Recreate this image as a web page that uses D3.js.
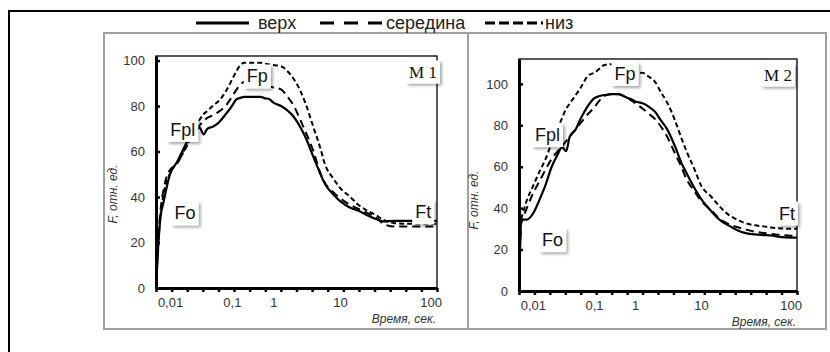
<!DOCTYPE html>
<html>
<head>
<meta charset="utf-8">
<script src="https://cdn.jsdelivr.net/npm/d3@7"></script>
<style>
  body { margin: 0; background: #fff; }
  svg { display: block; font-family: "Liberation Sans", Arial, sans-serif; }
</style>
</head>
<body>
<div id="chart"></div>
<script>
const seriesNames = ['верх', 'середина', 'низ'];

const times = [0.006, 0.0065, 0.007, 0.008, 0.01, 0.013, 0.016, 0.02, 0.025, 0.03, 0.035, 0.04, 0.05, 0.06, 0.08,
  0.1, 0.13, 0.16, 0.2, 0.25, 0.3, 0.4, 0.5, 0.6, 0.8, 1, 1.3, 1.6, 2, 2.5, 3, 4, 5, 6, 8,
  10, 13, 16, 20, 25, 30, 40, 50, 60, 80, 100, 120];

const m1Top = [0, 18, 30, 38.5, 50, 55.5, 60.5, 65.5, 68.5, 70.5, 67.5, 70, 71, 72.5, 76.5,
  80, 83, 83.6, 84, 84, 84, 84, 84, 83.5, 83, 81.5, 80, 78.2, 75.4, 71, 66.5, 57.5, 50.5, 45.5, 41,
  38.2, 35.3, 34, 32, 30.3, 29.3, 29.5, 29.5, 29.5, 29.5, 29.5, 29.5];
const m1Mid = [0, 22, 33, 44, 52, 54.5, 59.5, 64, 68.5, 71.5, 73.5, 74.8, 76, 77.3, 80.2,
  84, 87.3, 89.5, 90.7, 91, 90.5, 90, 89.5, 89, 88.5, 88.2, 87.3, 84.4, 80.3, 74.3, 69, 60, 51, 46, 42,
  39.5, 36.5, 34.8, 33, 31, 28.3, 27, 27, 27, 27, 27, 27];
const m1Low = [0, 20, 31, 42, 50.5, 55, 59, 64, 70, 74, 76.5, 77.8, 80.3, 82, 86.5,
  91.5, 95.5, 98, 99, 99, 99, 99, 99, 98.7, 98.3, 98, 97.5, 95.5, 92, 87, 81.5, 70.5, 62, 54, 48,
  44, 40, 36.5, 34, 32, 30, 28.5, 28.3, 28.3, 28.3, 28.3, 28.3];

const m2Top = [0, 33, 34.5, 34.5, 37.3, 44.5, 51, 59.5, 65.5, 69.5, 67.5, 74.5, 78, 83, 89.5,
  93, 94, 94.5, 94.7, 95, 95, 95, 94.3, 93.5, 92.6, 91.5, 90.6, 89, 86.5, 82, 78.5, 70, 62, 57, 49.5,
  44.5, 38.5, 34.5, 31.8, 29.5, 28.2, 27.3, 27, 26.8, 26, 25.8, 25.8];
const m2Mid = [0, 33, 35.5, 40, 47, 53.3, 58.5, 63.5, 67.2, 70, 72.3, 74.5, 78, 81, 85.5,
  88.5, 91.5, 93.5, 94.6, 95, 95, 95, 94.3, 93.5, 92, 90.7, 88, 85.6, 83, 79, 75, 66.5, 60, 54, 48,
  43.5, 39, 35, 32.5, 30.9, 30, 28.6, 28, 27.6, 27, 26.7, 26.5];
const m2Low = [0, 34, 38, 43.8, 50.5, 58, 63.5, 71, 78, 83.5, 88, 90.5, 94.5, 98, 104,
  105.3, 107, 108.7, 109.3, 109.5, 109.3, 108.5, 107.5, 106.5, 105.8, 105.5, 105.3, 103.5, 101, 95.5, 91.5, 82.5, 74, 67.5, 58.5,
  51, 45.5, 41, 37, 34.5, 33, 31.7, 31.2, 30.7, 30.2, 30, 30];

const xTickValues = [0.01, 0.1, 1, 10, 100];
const yTickValues = [0, 20, 40, 60, 80, 100];

const notes1 = [
  { text: 'Fpl', t: 0.016, v: 69.5 },
  { text: 'Fp', t: 0.41, v: 93 },
  { text: 'Fo', t: 0.0175, v: 32.8 },
  { text: 'Ft', t: 83, v: 33.3 }
];
const notes2 = [
  { text: 'Fpl', t: 0.0173, v: 75.3 },
  { text: 'Fp', t: 0.565, v: 104.8 },
  { text: 'Fo', t: 0.021, v: 24.6 },
  { text: 'Ft', t: 91, v: 37.4 }
];

// the time axis of the original is stretched unevenly between decades
const xKnots = [0.006, 0.01, 0.1, 1, 10, 100, 120];
const xKnotFrac = [0, 0.05, 0.27, 0.418, 0.655, 0.977, 1];

const styles = [
  { dash: null, width: 2.2 },
  { dash: '8,5', width: 2 },
  { dash: '5,3', width: 2 }
];

const svg = d3.select('#chart').append('svg')
  .attr('width', 830)
  .attr('height', 352);

svg.append('rect').attr('width', 830).attr('height', 352).attr('fill', '#fff');

const defs = svg.append('defs');
defs.append('filter')
  .attr('id', 'shadow')
  .attr('x', '-30%').attr('y', '-30%').attr('width', '170%').attr('height', '180%')
  .append('feDropShadow')
  .attr('dx', 2).attr('dy', 2).attr('stdDeviation', 1.6)
  .attr('flood-color', '#000').attr('flood-opacity', 0.35);

// outer frame and the two grey panels
svg.append('rect')
  .attr('x', 9).attr('y', 11).attr('width', 900).attr('height', 400)
  .attr('fill', 'none').attr('stroke', '#000').attr('stroke-width', 2);

svg.append('rect')
  .attr('x', 104).attr('y', 33).attr('width', 364).attr('height', 296)
  .attr('fill', '#fff').attr('stroke', '#a0a0a0').attr('stroke-width', 2);
svg.append('rect')
  .attr('x', 468).attr('y', 33).attr('width', 358).attr('height', 296)
  .attr('fill', '#fff').attr('stroke', '#a0a0a0').attr('stroke-width', 2);

// legend
const legendPos = [
  { x0: 196, x1: 249, tx: 258 },
  { x0: 320, x1: 382, tx: 386 },
  { x0: 485, x1: 543, tx: 545 }
];
const legendDash = [null, '14,10', '10,4'];
const legend = svg.append('g');
seriesNames.forEach((name, i) => {
  legend.append('line')
    .attr('x1', legendPos[i].x0).attr('x2', legendPos[i].x1)
    .attr('y1', 23).attr('y2', 23)
    .attr('stroke', '#000').attr('stroke-width', 3)
    .attr('stroke-dasharray', legendDash[i]);
  legend.append('text')
    .attr('x', legendPos[i].tx).attr('y', 29)
    .attr('font-size', 18).attr('fill', '#222')
    .text(name);
});

function fmt(d) {
  return String(d).replace('.', ',');
}

function drawPanel(p) {
  const g = svg.append('g').attr('transform', `translate(${p.left},${p.top})`);
  const width = p.width;
  const height = p.height;

  const x = d3.scaleLog()
    .domain(xKnots)
    .range(xKnotFrac.map(f => f * width));

  const y = d3.scaleLinear()
    .domain([0, p.yMax])
    .range([height, 0]);

  const grid = d3.scaleLinear().domain([0, 18]).range([0, width]);

  g.append('rect')
    .attr('width', width).attr('height', height)
    .attr('fill', 'none').attr('stroke', '#000').attr('stroke-width', 1.3);

  const line = d3.line()
    .x((d, i) => x(times[i]))
    .y(d => y(d))
    .curve(d3.curveMonotoneX);

  p.series.forEach((s, i) => {
    g.append('path')
      .datum(s)
      .attr('fill', 'none')
      .attr('stroke', '#000')
      .attr('stroke-width', styles[i].width)
      .attr('stroke-dasharray', styles[i].dash)
      .attr('stroke-linejoin', 'round')
      .attr('d', line);
  });

  const xTicks = g.append('g')
    .attr('transform', `translate(0,${height})`)
    .call(d3.axisBottom(grid).ticks(18).tickSize(4).tickSizeOuter(0).tickFormat(''));
  xTicks.select('.domain').attr('stroke-width', 3);
  xTicks.selectAll('.tick line').attr('stroke-width', 2.5);

  const xLabels = g.append('g')
    .attr('transform', `translate(0,${height})`)
    .call(d3.axisBottom(x).tickValues(xTickValues).tickSize(0).tickPadding(10).tickFormat(fmt));
  xLabels.select('.domain').remove();
  xLabels.selectAll('text')
    .attr('font-family', '"Liberation Sans", Arial, sans-serif')
    .attr('font-size', 13)
    .attr('fill', '#333');

  const yAxis = g.append('g')
    .call(d3.axisLeft(y).tickValues(yTickValues).tickSizeInner(-4).tickSizeOuter(0).tickPadding(11));
  yAxis.select('.domain').attr('stroke-width', 3);
  yAxis.selectAll('.tick line').attr('stroke-width', 2.5);
  yAxis.selectAll('text')
    .attr('font-family', '"Liberation Sans", Arial, sans-serif')
    .attr('font-size', 13)
    .attr('fill', '#333');

  g.append('text')
    .attr('transform', `translate(${p.yTitleX},${p.yTitleY}) rotate(-90)`)
    .attr('text-anchor', 'middle')
    .attr('font-size', 12)
    .attr('font-style', 'italic')
    .attr('fill', '#333')
    .text('F, отн. ед.');

  g.append('text')
    .attr('x', width - 1)
    .attr('y', height + 35)
    .attr('text-anchor', 'end')
    .attr('font-size', 12)
    .attr('font-style', 'italic')
    .attr('fill', '#333')
    .text('Время, сек.');

  const notes = p.notes.map(n => ({ text: n.text, cx: x(n.t), cy: y(n.v), serif: false }));
  notes.push({ text: p.tag, cx: width - p.tagOffset, cy: 16, serif: true });

  notes.forEach(n => {
    const box = g.append('g');
    const rect = box.append('rect').attr('fill', '#fff').attr('filter', 'url(#shadow)');
    const t = box.append('text')
      .attr('x', n.cx).attr('y', n.cy)
      .attr('text-anchor', 'middle')
      .attr('dominant-baseline', 'central')
      .attr('font-size', n.serif ? 17 : 18)
      .attr('font-family', n.serif ? '"Liberation Serif", "Times New Roman", serif' : null)
      .attr('fill', '#111')
      .text(n.text);
    const bb = t.node().getBBox();
    rect.attr('x', bb.x - 3).attr('y', bb.y - 2)
      .attr('width', bb.width + 6).attr('height', bb.height + 4);
  });
}

drawPanel({
  left: 156, top: 56, width: 281, height: 232, yMax: 102,
  series: [m1Top, m1Mid, m1Low], notes: notes1, tag: 'M 1', tagOffset: 14,
  yTitleX: -39, yTitleY: 138
});

drawPanel({
  left: 519, top: 59, width: 278, height: 232, yMax: 112,
  series: [m2Top, m2Mid, m2Low], notes: notes2, tag: 'M 2', tagOffset: 19,
  yTitleX: -41, yTitleY: 141
});
</script>
</body>
</html>
